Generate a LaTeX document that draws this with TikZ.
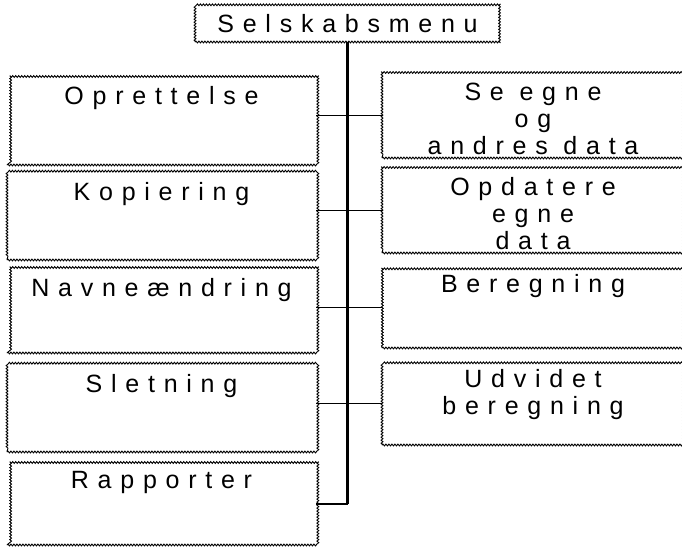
\documentclass[tikz,border=0pt]{standalone}
\usepackage{fontspec}
\newfontfamily\menufont[LetterSpace=35]{Liberation Sans}
\usetikzlibrary{positioning,decorations.pathmorphing,calc}
\tikzset{
  menubox/.style={draw=black, line width=0.9pt, rectangle, inner sep=0pt, decorate, decoration={snake, segment length=3pt, amplitude=0.9pt}},
  menutext/.style={anchor=north, inner sep=0pt, align=center, font=\fontsize{25}{27}\selectfont\menufont},
  trunk/.style={draw=black, line width=2.6pt},
  branch/.style={draw=black, line width=1.3pt},
}

\begin{document}
\begin{tikzpicture}[x=1pt, y=-1pt]
%PICTURE SCOPE
\clip (0,0) rectangle (682,547);
\useasboundingbox (0,0) rectangle (682,547);
%TOP
\node (menu) [menubox, minimum width=305pt, minimum height=38pt] at (347.5, 23) {};
\node (menutxt) [menutext] at ([yshift=-11pt]menu.north) {Selskabsmenu};
%LEFT COLUMN
\node (opr) [menubox, minimum width=309pt, minimum height=88pt] at (161.5, 121) {};
\node (kop) [menubox, minimum width=309pt, minimum height=87pt] at (161.5, 216.5) {};
\node (navn) [menubox, minimum width=309pt, minimum height=85pt] at (161.5, 310.5) {};
\node (slet) [menubox, minimum width=309pt, minimum height=87pt] at (161.5, 408.5) {};
\node (rap) [menubox, minimum width=309pt, minimum height=82pt] at (161.5, 504) {};
\node (oprtxt) [menutext] at ([yshift=-10pt]opr.north) {Oprettelse};
\node (koptxt) [menutext] at ([yshift=-10pt]kop.north) {Kopiering};
\node (navntxt) [menutext] at ([yshift=-11pt]navn.north) {Navneændring};
\node (slettxt) [menutext] at ([yshift=-10pt]slet.north) {Sletning};
\node (raptxt) [menutext] at ([yshift=-9pt]rap.north) {Rapporter};
%RIGHT COLUMN
\node (seegne) [menubox, minimum width=302pt, minimum height=85pt] at (533, 115.5) {};
\node (opd) [menubox, minimum width=302pt, minimum height=85pt] at (533, 210.5) {};
\node (ber) [menubox, minimum width=302pt, minimum height=81pt] at (533, 307.5) {};
\node (udv) [menubox, minimum width=302pt, minimum height=83pt] at (533, 403.5) {};
\node (seegnetxt) [menutext] at ([yshift=-10pt]seegne.north) {Se egne\\og\\andres data};
\node (opdtxt) [menutext] at ([yshift=-10pt]opd.north) {Opdatere\\egne\\data};
\node (bertxt) [menutext] at ([yshift=-8pt]ber.north) {Beregning};
\node (udvtxt) [menutext] at ([yshift=-8pt]udv.north) {Udvidet\\beregning};
%%CONNECTIONS
\draw [trunk] (menu.south) -- (menu.south |- rap.east);
\draw [branch] (seegne.west -| opr.east) -- (seegne.west);
\draw [branch] (opd.west -| kop.east) -- (opd.west);
\draw [branch] (ber.west -| navn.east) -- (ber.west);
\draw [branch] (udv.west -| slet.east) -- (udv.west);
\draw [branch] (rap.east) -- (menu.south |- rap.east);
\end{tikzpicture}
\end{document}
